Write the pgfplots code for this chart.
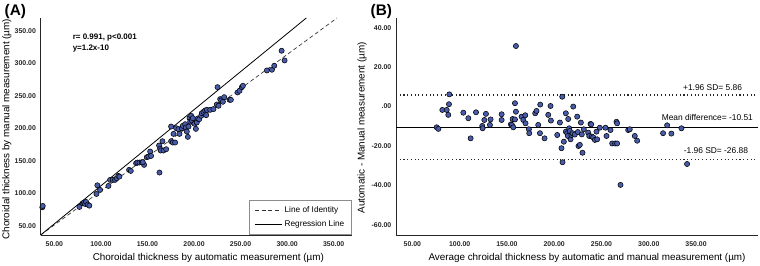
\documentclass[border=0pt]{standalone}
\usepackage{pgfplots}
\pgfplotsset{compat=1.18}
\usepackage{fontspec}
\setmainfont{Liberation Sans}
\definecolor{ptblue}{RGB}{72,92,170}
\begin{document}
\begin{tikzpicture}[x=1pt,y=1pt]
\useasboundingbox (0,0) rectangle (570,198.75);
\pgfplotsset{
  myax/.style={scale only axis, axis x line*=bottom, axis y line*=left,
    axis line style={black!85, line width=0.65pt, -},
    major tick length=0pt, tick style={draw=none},
    ticklabel style={font=\fontsize{5.2}{6}\selectfont\bfseries, text=black!85},
    xticklabel style={yshift=-1.5pt},
    clip=false, height=162.75pt},
  pts/.style={only marks, mark=*, mark size=1.95pt, mark options={fill=ptblue, draw=black, line width=0.4pt}, forget plot}
}
\node[font=\fontsize{11.5}{12}\selectfont\bfseries, anchor=north west] at (0,198.75) {(A)};
\node[font=\fontsize{11.5}{12}\selectfont\bfseries, anchor=north west] at (274.5,198.75) {(B)};
% Panel A
\begin{axis}[myax, at={(30.5pt,22.5pt)}, anchor=south west, width=233.5pt,
  xmin=35.3, xmax=369.7, ymin=35.6, ymax=369.5,
  xtick={50,100,150,200,250,300,350}, xticklabels={50.00,100.00,150.00,200.00,250.00,300.00,350.00},
  ytick={50,100,150,200,250,300,350}, yticklabels={50.00,100.00,150.00,200.00,250.00,300.00,350.00},
  legend style={at={(1,0)}, anchor=south east, draw=black!45, line width=0.5pt, fill=white,
    font=\fontsize{6.2}{7}\selectfont, inner xsep=3.5pt, inner ysep=2.5pt, row sep=0.5pt,
    /tikz/every even column/.append style={column sep=2pt}},
  legend cell align=left,
  legend image code/.code={\draw[#1] (0pt,0pt) -- (20pt,0pt);}
  ]
\addplot[pts] coordinates {
(37.1,78.2) (37.5,80.3) (76.9,78.8) (80.5,84.4) (81.9,85.4) (83.0,83.4) (84.1,86.5)
(85.8,82.4) (87.6,80.8) (95.2,98.8) (96.2,112.1) (99.1,105.0) (108.1,111.1) (109.9,120.4)
(112.7,120.4) (115.2,120.4) (117.0,122.9) (118.8,126.5) (119.9,125.5) (130.3,135.8) (132.1,134.2)
(137.8,146.0) (139.2,147.1) (141.4,147.1) (143.9,147.6) (146.4,143.5) (145.0,147.6) (149.3,155.3)
(151.1,156.3) (152.9,164.0) (153.9,157.3) (162.9,131.7) (162.5,173.3) (163.6,168.1) (164.3,165.6)
(166.1,179.9) (167.2,165.6) (170.1,167.6) (175.4,202.5) (175.4,179.9) (177.2,177.9) (178.0,191.2)
(179.7,177.9) (180.8,200.0) (183.3,198.4) (184.4,191.2) (186.9,200.0) (188.0,203.6) (190.5,206.1)
(191.2,201.0) (192.3,194.8) (193.4,186.6) (194.1,202.5) (195.2,215.4) (195.9,210.2) (197.0,219.0)
(197.7,211.8) (198.7,215.4) (200.5,206.7) (202.0,198.9) (203.0,208.7) (204.1,214.9) (205.6,213.8)
(207.7,219.0) (208.4,223.1) (210.2,225.1) (212.0,227.2) (213.1,220.0) (213.8,228.2) (217.4,228.2)
(220.9,229.3) (224.5,236.4) (225.3,263.1) (226.3,234.4) (228.1,244.7) (229.2,242.6) (231.0,240.6)
(232.4,247.7) (238.2,243.6) (239.6,243.6) (246.8,254.9) (248.9,257.5) (251.4,263.1) (252.5,265.2)
(278.3,288.8) (283.7,289.9) (286.2,296.0) (294.1,319.1) (297.3,304.2)
};
\addplot[black!80, densely dashed, line width=0.5pt] coordinates {(35.3,35.6) (353.6,369.5)};
\addlegendentry{Line of Identity}
\addplot[black, line width=0.6pt] coordinates {(35.3,35.6) (320.6,369.5)};
\addlegendentry{Regression Line}
\node[anchor=west, font=\fontsize{6}{7}\selectfont\bfseries] at (axis cs:64.7,339.2) {r= 0.991, p<0.001};
\node[anchor=west, font=\fontsize{6}{7}\selectfont\bfseries] at (axis cs:64.7,322.2) {y=1.2x-10};
\node[xshift=9pt, yshift=-17.25pt, font=\fontsize{7.4}{8}\selectfont] at (rel axis cs:0.5,0) {Choroidal thickness by automatic measurement (µm)};
\node[xshift=-25.3pt, yshift=-2pt, rotate=90, font=\fontsize{7.4}{8}\selectfont] at (rel axis cs:0,0.5) {Choroidal thickness by manual measurement (µm)};
\end{axis}
% Panel B
\begin{axis}[myax, at={(297pt,22.5pt)}, anchor=south west, width=271.5pt,
  xmin=32.7, xmax=415.5, ymin=-65.1, ymax=44.9,
  xtick={50,100,150,200,250,300,350}, xticklabels={50.00,100.00,150.00,200.00,250.00,300.00,350.00},
  ytick={-60,-40,-20,0,20,40}, yticklabels={-60.00,-40.00,-20.00,.00,20.00,40.00}
  ]
\addplot[black, line width=0.9pt, forget plot] coordinates {(32.7,-10.51) (415.5,-10.51)};
\addplot[black!85, dotted, line width=0.8pt, forget plot] coordinates {(32.7,5.86) (415.5,5.86)};
\addplot[black!85, dotted, line width=0.8pt, forget plot] coordinates {(32.7,-26.88) (415.5,-26.88)};
\addplot[pts] coordinates {
(75.7,-10.5) (77.5,-11.3) (81.7,-1.7) (86.3,-1.7) (88.0,-4.2) (88.7,1.2) (89.1,6.2)
(103.9,-3.1) (109.2,-5.9) (111.6,-16.1) (117.3,-2.9) (123.9,-9.8) (124.3,-11.0) (126.1,-6.8)
(127.8,-3.7) (132.0,-9.3) (132.7,-6.5) (144.4,-3.9) (144.4,-6.8) (154.2,-9.0) (155.3,-9.3)
(156.0,-6.3) (156.7,-10.5) (158.5,1.7) (158.5,-6.5) (159.5,-2.6) (159.5,30.7) (165.5,-5.1)
(167.3,-6.8) (169.4,-4.4) (169.7,-8.5) (173.2,-11.5) (173.6,-13.5) (179.9,-3.4) (181.3,-2.2)
(183.1,-9.3) (184.9,-13.5) (185.2,1.0) (189.8,-16.1) (193.7,-4.2) (196.1,0.3) (196.5,-7.1)
(203.2,-14.4) (206.0,-8.1) (207.7,-21.1) (208.5,5.0) (208.8,-28.2) (210.2,-17.8) (212.3,-3.4)
(212.3,-12.7) (213.7,-13.5) (214.4,-14.9) (214.8,-6.3) (215.8,-11.0) (216.5,-12.4) (217.3,-16.6)
(218.3,-14.4) (219.4,-13.5) (220.1,0.0) (221.8,-14.2) (224.3,-5.1) (225.0,-12.9) (225.7,-20.0)
(227.1,-19.4) (228.2,-8.1) (229.2,-14.1) (229.9,-23.4) (231.3,-11.5) (235.9,-13.2) (237.0,-14.9)
(238.4,-8.8) (239.1,-9.0) (239.8,-15.2) (241.2,-15.6) (243.0,-16.9) (244.7,-12.7) (245.4,-16.6)
(248.2,-10.7) (254.2,-10.7) (255.3,-14.9) (259.5,-11.9) (261.3,-18.7) (264.4,-18.7) (265.8,-7.7)
(266.5,-8.5) (266.5,-18.7) (270.1,-39.7) (278.2,-11.9) (279.9,-11.5) (285.2,-14.9) (287.7,-17.3)
(315.1,-13.5) (319.4,-9.5) (323.9,-13.7) (334.5,-11.0) (340.5,-29.1)
};
\node[anchor=east, font=\fontsize{6.3}{7}\selectfont] at (axis cs:403.5,9.8) {+1.96 SD= 5.86};
\node[anchor=east, font=\fontsize{6.3}{7}\selectfont] at (axis cs:415.1,-5.4) {Mean difference= -10.51};
\node[anchor=east, font=\fontsize{6.3}{7}\selectfont] at (axis cs:409.9,-22.3) {-1.96 SD= -26.88};
\node[xshift=7.5pt, yshift=-17.25pt, font=\fontsize{7.4}{8}\selectfont] at (rel axis cs:0.5,0) {Average chroidal thickness by automatic and manual measurement (µm)};
\node[xshift=-25.5pt, yshift=-1pt, rotate=90, font=\fontsize{7.4}{8}\selectfont] at (rel axis cs:0,0.5) {Automatic - Manual measurement (µm)};
\end{axis}
\end{tikzpicture}
\end{document}
